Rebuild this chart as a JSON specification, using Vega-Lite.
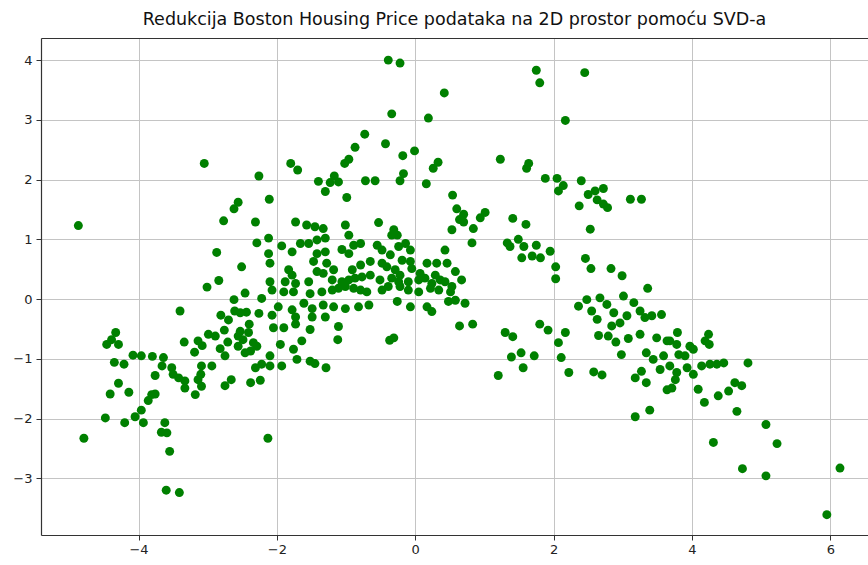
{
  "$schema": "https://vega.github.io/schema/vega-lite/v6.json",
  "width": 827,
  "height": 497,
  "autosize": {"type": "none"},
  "padding": {"left": 41, "top": 38, "right": 0, "bottom": 30},
  "background": "white",
  "title": {"text": "Redukcija Boston Housing Price podataka na 2D prostor pomoću SVD-a", "font": "DejaVu Sans", "fontSize": 17.5, "fontWeight": "normal", "color": "#111", "anchor": "middle", "dx": 0, "offset": 10},
  "config": {"view": {"stroke": null}},
  "data": {"values": [
    {"x": -4.87, "y": 1.23}, {"x": -3.05, "y": 2.27}, {"x": -2.56, "y": 1.62}, {"x": -2.62, "y": 1.51}, {"x": -2.77, "y": 1.31}, {"x": -2.87, "y": 0.78}, {"x": -2.51, "y": 0.54}, {"x": -2.84, "y": 0.31}, {"x": -3.01, "y": 0.2},
    {"x": -0.39, "y": 4.0}, {"x": -0.22, "y": 3.95}, {"x": 0.42, "y": 3.45}, {"x": -0.34, "y": 3.1}, {"x": 0.19, "y": 3.03}, {"x": -0.73, "y": 2.76}, {"x": -0.87, "y": 2.54}, {"x": -0.43, "y": 2.6}, {"x": -0.18, "y": 2.4}, {"x": -0.01, "y": 2.48}, {"x": -0.96, "y": 2.34}, {"x": -1.02, "y": 2.27}, {"x": 0.33, "y": 2.29}, {"x": 0.26, "y": 2.19}, {"x": -1.8, "y": 2.27}, {"x": -1.7, "y": 2.16}, {"x": -2.26, "y": 2.06}, {"x": -1.17, "y": 2.06}, {"x": -1.4, "y": 1.97}, {"x": -1.23, "y": 1.95}, {"x": -1.11, "y": 1.96}, {"x": -1.3, "y": 1.8}, {"x": -0.99, "y": 1.7}, {"x": -0.72, "y": 1.98}, {"x": -0.58, "y": 1.98}, {"x": -0.17, "y": 2.1}, {"x": -0.22, "y": 1.98}, {"x": 0.16, "y": 1.93}, {"x": 0.54, "y": 1.74}, {"x": 0.6, "y": 1.51}, {"x": -2.11, "y": 1.67},
    {"x": 1.75, "y": 3.83}, {"x": 1.8, "y": 3.62}, {"x": 2.45, "y": 3.79}, {"x": 2.17, "y": 2.99}, {"x": 1.23, "y": 2.34}, {"x": 1.64, "y": 2.27}, {"x": 1.61, "y": 2.19}, {"x": 1.88, "y": 2.02}, {"x": 2.05, "y": 2.02}, {"x": 2.14, "y": 1.9}, {"x": 2.07, "y": 1.81}, {"x": 2.4, "y": 1.98}, {"x": 2.5, "y": 1.75}, {"x": 2.6, "y": 1.81}, {"x": 2.72, "y": 1.85}, {"x": 2.63, "y": 1.66}, {"x": 2.72, "y": 1.59}, {"x": 2.78, "y": 1.53}, {"x": 2.37, "y": 1.56}, {"x": 3.11, "y": 1.67}, {"x": 3.27, "y": 1.67}, {"x": 2.53, "y": 1.17}, {"x": 0.7, "y": 1.42}, {"x": 0.64, "y": 1.33}, {"x": 0.94, "y": 1.36}, {"x": 1.01, "y": 1.45}, {"x": 0.84, "y": 1.18}, {"x": 1.41, "y": 1.35}, {"x": 1.6, "y": 1.25}, {"x": 0.82, "y": 0.94}, {"x": 1.33, "y": 0.94}, {"x": 1.49, "y": 1.0}, {"x": 1.37, "y": 0.88}, {"x": 1.57, "y": 0.88}, {"x": 1.75, "y": 0.9}, {"x": 1.54, "y": 0.69}, {"x": 1.69, "y": 0.72}, {"x": 1.81, "y": 0.69}, {"x": 1.95, "y": 0.8}, {"x": 2.03, "y": 0.54}, {"x": 2.03, "y": 0.34}, {"x": 2.46, "y": 0.68}, {"x": 2.54, "y": 0.51}, {"x": 2.83, "y": 0.51}, {"x": 2.99, "y": 0.39}, {"x": 3.36, "y": 0.18},
    {"x": -2.62, "y": -0.01}, {"x": -2.46, "y": 0.1}, {"x": -3.4, "y": -0.2}, {"x": -2.81, "y": -0.27}, {"x": -2.7, "y": -0.35}, {"x": -2.61, "y": -0.2}, {"x": -2.53, "y": -0.23}, {"x": -2.44, "y": -0.22}, {"x": -2.4, "y": -0.42}, {"x": -2.53, "y": -0.54}, {"x": -2.41, "y": -0.56}, {"x": -2.56, "y": -0.62}, {"x": -2.49, "y": -0.68}, {"x": -2.76, "y": -0.52}, {"x": -2.99, "y": -0.59}, {"x": -2.89, "y": -0.62}, {"x": -3.34, "y": -0.72}, {"x": -3.14, "y": -0.7}, {"x": -3.08, "y": -0.78}, {"x": -3.19, "y": -0.89}, {"x": -2.71, "y": -0.72}, {"x": -2.82, "y": -0.83}, {"x": -2.75, "y": -0.95}, {"x": -2.56, "y": -0.79}, {"x": -2.46, "y": -0.9}, {"x": -4.33, "y": -0.56}, {"x": -4.39, "y": -0.68}, {"x": -4.46, "y": -0.76}, {"x": -4.29, "y": -0.76}, {"x": -4.35, "y": -1.06}, {"x": -4.21, "y": -1.09}, {"x": -4.08, "y": -0.94}, {"x": -3.96, "y": -0.95}, {"x": -3.8, "y": -0.96}, {"x": -3.64, "y": -0.98}, {"x": -3.66, "y": -1.12}, {"x": -3.52, "y": -1.15}, {"x": -3.5, "y": -1.26}, {"x": -3.42, "y": -1.32}, {"x": -3.33, "y": -1.37}, {"x": -3.33, "y": -1.49}, {"x": -3.18, "y": -1.6}, {"x": -3.09, "y": -1.46}, {"x": -3.14, "y": -1.35}, {"x": -3.09, "y": -1.12}, {"x": -2.94, "y": -1.12}, {"x": -3.1, "y": -1.26}, {"x": -3.76, "y": -1.28}, {"x": -2.75, "y": -1.45}, {"x": -2.66, "y": -1.35}, {"x": -4.29, "y": -1.41}, {"x": -4.41, "y": -1.59}, {"x": -4.14, "y": -1.56}, {"x": -3.76, "y": -1.59}, {"x": -3.86, "y": -1.7}, {"x": -3.81, "y": -1.6}, {"x": -3.96, "y": -1.86}, {"x": -4.05, "y": -1.97}, {"x": -4.2, "y": -2.07}, {"x": -3.93, "y": -2.07}, {"x": -4.48, "y": -1.99}, {"x": -3.62, "y": -2.07}, {"x": -3.67, "y": -2.23}, {"x": -3.59, "y": -2.24}, {"x": -3.55, "y": -2.55}, {"x": -4.79, "y": -2.33}, {"x": -3.6, "y": -3.2}, {"x": -3.41, "y": -3.24},
    {"x": 0.64, "y": -0.45}, {"x": -0.31, "y": -0.65}, {"x": -0.37, "y": -0.69}, {"x": -2.34, "y": -0.73}, {"x": -2.38, "y": -1.4}, {"x": -2.24, "y": -1.36}, {"x": -2.05, "y": -0.48}, {"x": -1.9, "y": -0.48}, {"x": -1.73, "y": -0.42}, {"x": -1.52, "y": -0.51}, {"x": -1.64, "y": -0.7}, {"x": -1.95, "y": -0.76}, {"x": -1.76, "y": -0.84}, {"x": -1.71, "y": -1.01}, {"x": -1.52, "y": -1.04}, {"x": -1.45, "y": -1.08}, {"x": -1.29, "y": -1.15}, {"x": -1.12, "y": -0.68}, {"x": -1.11, "y": -0.46}, {"x": -2.38, "y": -0.87}, {"x": -2.29, "y": -0.79}, {"x": -2.22, "y": -1.09}, {"x": -2.1, "y": -1.12}, {"x": -1.93, "y": -1.12}, {"x": -2.1, "y": -0.95}, {"x": -2.31, "y": -1.15}, {"x": -2.13, "y": -2.33},
    {"x": 0.83, "y": -0.42}, {"x": 1.3, "y": -0.56}, {"x": 1.41, "y": -0.63}, {"x": 1.8, "y": -0.42}, {"x": 1.92, "y": -0.52}, {"x": 1.39, "y": -0.97}, {"x": 1.53, "y": -0.9}, {"x": 1.72, "y": -0.95}, {"x": 1.56, "y": -1.15}, {"x": 1.2, "y": -1.28}, {"x": 2.07, "y": -0.73}, {"x": 2.17, "y": -0.56}, {"x": 2.11, "y": -0.98}, {"x": 2.22, "y": -1.23}, {"x": 2.58, "y": -1.22}, {"x": 2.7, "y": -1.27},
    {"x": 2.36, "y": -0.12}, {"x": 2.48, "y": -0.01}, {"x": 2.67, "y": 0.02}, {"x": 2.55, "y": -0.2}, {"x": 2.63, "y": -0.34}, {"x": 2.77, "y": -0.09}, {"x": 2.87, "y": -0.23}, {"x": 3.01, "y": 0.05}, {"x": 3.16, "y": -0.06}, {"x": 3.25, "y": -0.2}, {"x": 3.32, "y": -0.31}, {"x": 3.42, "y": -0.28}, {"x": 3.56, "y": -0.26}, {"x": 3.06, "y": -0.28}, {"x": 2.96, "y": -0.4}, {"x": 2.84, "y": -0.45}, {"x": 2.65, "y": -0.61}, {"x": 2.79, "y": -0.62}, {"x": 2.9, "y": -0.72}, {"x": 2.98, "y": -0.93}, {"x": 3.08, "y": -0.66}, {"x": 3.25, "y": -0.59}, {"x": 3.34, "y": -0.9}, {"x": 3.44, "y": -1.01}, {"x": 3.49, "y": -0.65}, {"x": 3.59, "y": -0.95}, {"x": 3.64, "y": -0.7}, {"x": 3.18, "y": -1.32}, {"x": 3.27, "y": -1.21}, {"x": 3.34, "y": -1.4}, {"x": 3.54, "y": -1.18}, {"x": 3.64, "y": -1.52}, {"x": 3.18, "y": -1.97}, {"x": 3.39, "y": -1.86},
    {"x": 3.79, "y": -0.56}, {"x": 3.78, "y": -0.76}, {"x": 3.68, "y": -0.7}, {"x": 3.81, "y": -0.93}, {"x": 3.9, "y": -0.95}, {"x": 3.97, "y": -0.79}, {"x": 4.02, "y": -0.84}, {"x": 4.19, "y": -0.7}, {"x": 4.24, "y": -0.59}, {"x": 4.25, "y": -0.76}, {"x": 3.68, "y": -1.12}, {"x": 3.78, "y": -1.23}, {"x": 3.76, "y": -1.35}, {"x": 3.71, "y": -1.49}, {"x": 3.93, "y": -1.15}, {"x": 4.02, "y": -1.26}, {"x": 4.14, "y": -1.12}, {"x": 4.26, "y": -1.09}, {"x": 4.36, "y": -1.09}, {"x": 4.46, "y": -1.07}, {"x": 4.81, "y": -1.07}, {"x": 4.09, "y": -1.51}, {"x": 4.18, "y": -1.73}, {"x": 4.38, "y": -1.62}, {"x": 4.53, "y": -1.54}, {"x": 4.62, "y": -1.4}, {"x": 4.72, "y": -1.45}, {"x": 4.65, "y": -1.88}, {"x": 5.07, "y": -2.1}, {"x": 4.31, "y": -2.4}, {"x": 5.23, "y": -2.42}, {"x": 4.73, "y": -2.84}, {"x": 5.07, "y": -2.96}, {"x": 6.14, "y": -2.83}, {"x": 5.95, "y": -3.61},
    {"x": -2.31, "y": 1.29}, {"x": -1.73, "y": 1.29}, {"x": -1.57, "y": 1.24}, {"x": -1.45, "y": 1.21}, {"x": -1.33, "y": 1.18}, {"x": -1.01, "y": 1.24}, {"x": -0.96, "y": 1.07}, {"x": -0.53, "y": 1.28}, {"x": -0.31, "y": 1.16}, {"x": -0.26, "y": 1.07}, {"x": 0.53, "y": 1.16}, {"x": 0.7, "y": 1.29},
    {"x": -2.29, "y": 0.94}, {"x": -2.12, "y": 1.02}, {"x": -1.93, "y": 0.89}, {"x": -1.78, "y": 0.79}, {"x": -1.66, "y": 0.93}, {"x": -1.54, "y": 0.93}, {"x": -1.42, "y": 0.99}, {"x": -1.3, "y": 1.02}, {"x": -2.12, "y": 0.76}, {"x": -2.1, "y": 0.6}, {"x": -1.42, "y": 0.76}, {"x": -1.47, "y": 0.63}, {"x": -1.3, "y": 0.79}, {"x": -1.28, "y": 0.6}, {"x": -1.06, "y": 0.83}, {"x": -0.96, "y": 0.76}, {"x": -0.89, "y": 0.9}, {"x": -0.79, "y": 0.93}, {"x": -0.55, "y": 0.9}, {"x": -0.48, "y": 0.82}, {"x": -0.36, "y": 0.74}, {"x": -0.24, "y": 0.88}, {"x": -0.14, "y": 0.93}, {"x": -0.07, "y": 0.82}, {"x": -0.34, "y": 1.07}, {"x": -0.19, "y": 0.65}, {"x": -0.07, "y": 0.63}, {"x": 0.43, "y": 0.82},
    {"x": -1.83, "y": 0.49}, {"x": -1.78, "y": 0.4}, {"x": -1.42, "y": 0.46}, {"x": -1.33, "y": 0.43}, {"x": -1.18, "y": 0.49}, {"x": -0.91, "y": 0.49}, {"x": -0.79, "y": 0.57}, {"x": -0.65, "y": 0.63}, {"x": -0.48, "y": 0.6}, {"x": -0.41, "y": 0.54}, {"x": -0.29, "y": 0.49}, {"x": -0.22, "y": 0.4}, {"x": -0.05, "y": 0.51}, {"x": 0.07, "y": 0.43}, {"x": 0.17, "y": 0.6}, {"x": 0.31, "y": 0.6}, {"x": 0.46, "y": 0.6}, {"x": 0.58, "y": 0.46}, {"x": 0.29, "y": 0.4}, {"x": 0.36, "y": 0.32}, {"x": -1.88, "y": 0.29}, {"x": -1.73, "y": 0.26}, {"x": -1.54, "y": 0.29}, {"x": -2.1, "y": 0.29}, {"x": -1.2, "y": 0.32}, {"x": -1.06, "y": 0.29}, {"x": -0.96, "y": 0.32}, {"x": -0.87, "y": 0.35}, {"x": -0.77, "y": 0.37}, {"x": -0.65, "y": 0.4}, {"x": -0.51, "y": 0.32}, {"x": -0.34, "y": 0.35}, {"x": -0.24, "y": 0.29}, {"x": -0.1, "y": 0.29}, {"x": 0.05, "y": 0.32}, {"x": 0.14, "y": 0.35}, {"x": 0.24, "y": 0.26}, {"x": 0.67, "y": 0.32}, {"x": 0.53, "y": 0.21}, {"x": 0.43, "y": 0.29},
    {"x": -2.07, "y": 0.15}, {"x": -1.9, "y": 0.12}, {"x": -1.76, "y": 0.12}, {"x": -1.52, "y": 0.09}, {"x": -1.35, "y": 0.12}, {"x": -1.2, "y": 0.15}, {"x": -1.11, "y": 0.18}, {"x": -1.01, "y": 0.21}, {"x": -0.89, "y": 0.18}, {"x": -0.79, "y": 0.15}, {"x": -0.7, "y": 0.12}, {"x": -0.48, "y": 0.15}, {"x": -0.39, "y": 0.21}, {"x": -0.22, "y": 0.21}, {"x": -0.1, "y": 0.15}, {"x": 0.05, "y": 0.12}, {"x": 0.22, "y": 0.18}, {"x": 0.34, "y": 0.15}, {"x": 0.51, "y": 0.12}, {"x": 0.58, "y": -0.02}, {"x": -2.22, "y": 0.01},
    {"x": -1.98, "y": -0.13}, {"x": -1.78, "y": -0.18}, {"x": -1.61, "y": -0.07}, {"x": -1.49, "y": -0.16}, {"x": -1.33, "y": -0.1}, {"x": -1.18, "y": -0.13}, {"x": -1.01, "y": -0.16}, {"x": -0.82, "y": -0.13}, {"x": -0.67, "y": -0.1}, {"x": -0.26, "y": -0.04}, {"x": -0.07, "y": -0.13}, {"x": 0.17, "y": -0.13}, {"x": 0.24, "y": -0.21}, {"x": 0.48, "y": -0.04}, {"x": 0.72, "y": -0.07}, {"x": -2.26, "y": -0.24}, {"x": -2.07, "y": -0.27}, {"x": -1.73, "y": -0.3}, {"x": -1.49, "y": -0.3}, {"x": -1.3, "y": -0.3}
  ]},
  "layer": [
    {
      "mark": {"type": "circle", "opacity": 0},
      "encoding": {
        "x": {"field": "x", "type": "quantitative",
          "scale": {"domain": [-5.41, 6.545], "nice": false, "zero": false},
          "axis": {"orient": "top", "title": null, "labels": false, "ticks": false, "grid": false, "domain": true, "domainColor": "#333", "domainWidth": 1.2}},
        "y": {"field": "y", "type": "quantitative",
          "scale": {"domain": [-3.95, 4.37], "nice": false, "zero": false},
          "axis": null}
      }
    },
    {
      "mark": {"type": "circle", "color": "#008000", "size": 80, "opacity": 1},
      "encoding": {
        "x": {"field": "x", "type": "quantitative",
          "scale": {"domain": [-5.41, 6.545], "nice": false, "zero": false},
          "axis": {"orient": "bottom", "values": [-4, -2, 0, 2, 4, 6], "title": null, "grid": true, "gridColor": "#c4c4c4", "gridWidth": 1, "domain": true, "domainColor": "#333", "domainWidth": 1.2, "tickSize": 5, "tickColor": "#333", "labelFont": "DejaVu Sans", "labelFontSize": 13, "labelColor": "#222", "labelPadding": 3}},
        "y": {"field": "y", "type": "quantitative",
          "scale": {"domain": [-3.95, 4.37], "nice": false, "zero": false},
          "axis": {"orient": "left", "values": [-3, -2, -1, 0, 1, 2, 3, 4], "title": null, "grid": true, "gridColor": "#c4c4c4", "gridWidth": 1, "domain": true, "domainColor": "#333", "domainWidth": 1.2, "tickSize": 5, "tickColor": "#333", "labelFont": "DejaVu Sans", "labelFontSize": 13, "labelColor": "#222", "labelPadding": 4}}
      }
    }
  ],
  "resolve": {"axis": {"x": "independent", "y": "independent"}}
}
